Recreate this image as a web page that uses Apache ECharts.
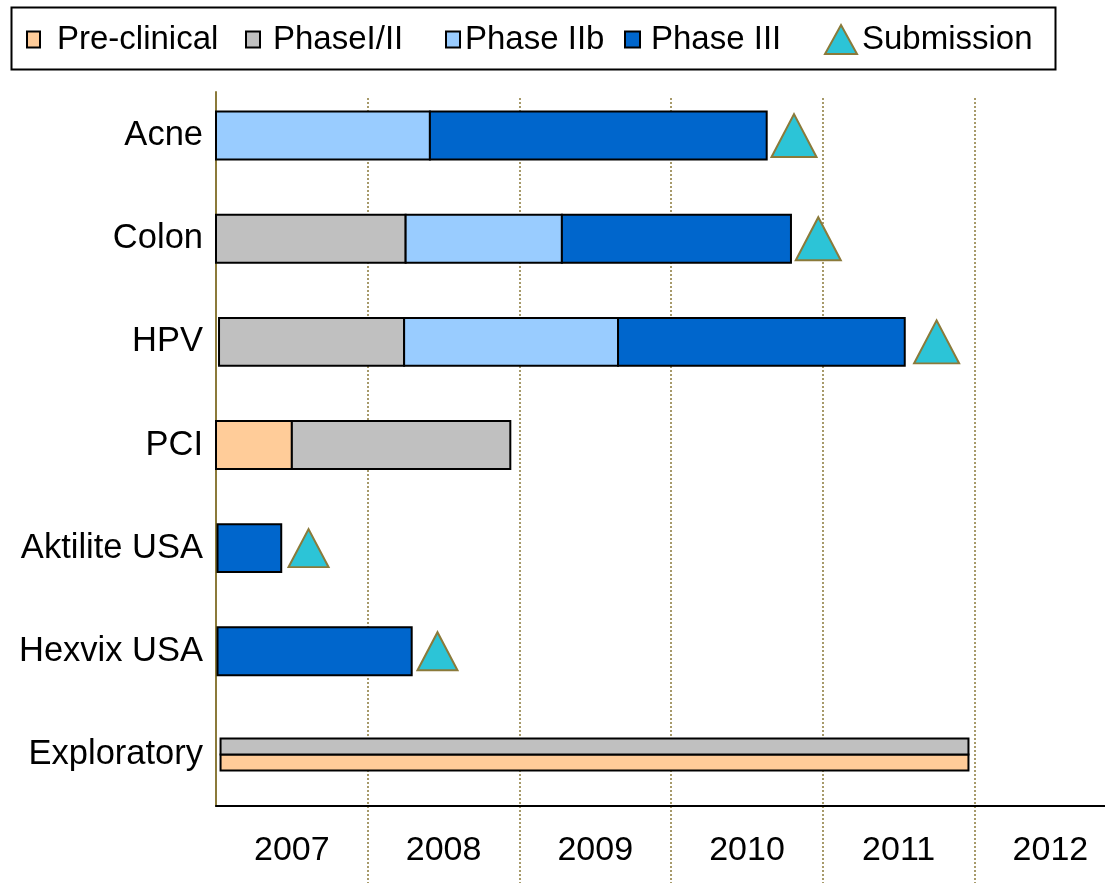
<!DOCTYPE html>
<html>
<head>
<meta charset="utf-8">
<script src="https://cdn.jsdelivr.net/npm/echarts@6/dist/echarts.min.js"></script>
<style>html,body{margin:0;padding:0;background:#fff}#chart{width:1105px;height:883px}</style>
</head>
<body>
<div id="chart"></div>
<script>
// ---- data ----
const categories = ['Acne', 'Colon', 'HPV', 'PCI', 'Aktilite USA', 'Hexvix USA', 'Exploratory'];
const years = [2007, 2008, 2009, 2010, 2011, 2012];
// [start, end, row, lane]  lane: 0 full bar, 1 upper half, 2 lower half
const preClinical = [
  [2007.00, 2007.50, 'PCI', 0],
  [2007.03, 2011.96, 'Exploratory', 2]
];
const phaseI_II = [
  [2007.00, 2008.25, 'Colon', 0],
  [2007.02, 2008.24, 'HPV', 0],
  [2007.50, 2008.94, 'PCI', 0],
  [2007.03, 2011.96, 'Exploratory', 1]
];
const phaseIIb = [
  [2007.00, 2008.41, 'Acne', 0],
  [2008.25, 2009.28, 'Colon', 0],
  [2008.24, 2009.65, 'HPV', 0]
];
const phaseIII = [
  [2008.41, 2010.63, 'Acne', 0],
  [2009.28, 2010.79, 'Colon', 0],
  [2009.65, 2011.54, 'HPV', 0],
  [2007.01, 2007.43, 'Aktilite USA', 0],
  [2007.01, 2008.29, 'Hexvix USA', 0]
];
const submission = [
  [2010.81, 'Acne'],
  [2010.97, 'Colon'],
  [2011.75, 'HPV'],
  [2007.61, 'Aktilite USA'],
  [2008.46, 'Hexvix USA']
];

// ---- chart ----
const FONT = 'Liberation Sans, Arial, sans-serif';
const OLIVE = '#8B7A3A';
const X_MIN = years[0];
const X_MAX = 2012.86;           // visible end of the time axis
const chart = echarts.init(document.getElementById('chart'), null, {renderer: 'canvas'});

function renderBar(params, api) {
  const row = api.value(2);
  const lane = api.value(3);
  const p0 = api.coord([api.value(0), row]);
  const p1 = api.coord([api.value(1), row]);
  const band = api.size([0, 1])[1];
  const full = band * 0.465;
  let y0, h;
  if (lane === 0) { y0 = p0[1] - full / 2; h = full; }
  else if (lane === 1) { y0 = p0[1] - full / 3; h = full / 3; }
  else { y0 = p0[1]; h = full / 3; }
  return {
    type: 'rect',
    shape: {x: p0[0], y: y0, width: p1[0] - p0[0], height: h},
    style: {fill: api.visual('color'), stroke: '#000', lineWidth: 2}
  };
}

function barSeries(name, data, color) {
  return {
    type: 'custom', name: name, data: data,
    xAxisIndex: 2, yAxisIndex: 2,
    renderItem: renderBar,
    encode: {x: [0, 1], y: 2},
    itemStyle: {color: color},
    z: 3
  };
}

function legendAt(name, left, gap, w, h, icon, border) {
  return {
    data: [name], left: left, top: 23, padding: 0,
    icon: icon, itemWidth: w, itemHeight: h,
    itemStyle: {borderColor: border, borderWidth: 2},
    selectedMode: false,
    textStyle: {fontFamily: FONT, fontSize: 33, color: '#000', padding: [0, 0, 0, gap]}
  };
}

// the year labels sit in the middle of each year: a label grid shifted by half a year
const plotLeft = 216, plotRight = 1105;
const yearPx = (plotRight - plotLeft) / (X_MAX - X_MIN);
const labelLeft = plotLeft + yearPx / 2;
const labelMax = X_MIN + (plotRight - labelLeft) / yearPx;

const option = {
  backgroundColor: '#fff',
  animation: false,
  graphic: [{
    type: 'rect', left: 9, top: 5,
    shape: {width: 1044, height: 62},
    style: {fill: 'none', stroke: '#000', lineWidth: 2}
  }],
  legend: [
    legendAt('Pre-clinical', 26, 12, 13, 16, 'rect', '#000'),
    legendAt('PhaseI/II', 245, 8, 14, 16, 'rect', '#000'),
    legendAt('Phase IIb', 445, 0, 14, 16, 'rect', '#000'),
    legendAt('Phase III', 624, 6, 15, 16, 'rect', '#000'),
    legendAt('Submission', 824, 0, 32, 29, 'triangle', OLIVE)
  ],
  grid: [
    {left: plotLeft, right: 0, top: 92, bottom: 77},   // axis lines
    {left: plotLeft, right: 0, top: 98, bottom: 0},    // dotted year lines
    {left: plotLeft, right: 0, top: 84, bottom: 77},   // bars
    {left: labelLeft, right: 0, top: 92, bottom: 77}   // year labels
  ],
  xAxis: [
    {
      gridIndex: 0, type: 'value', min: 0, max: 1,
      axisLine: {show: true, onZero: false, lineStyle: {color: '#000', width: 2}},
      axisTick: {show: false}, axisLabel: {show: false}, splitLine: {show: false}
    },
    {
      gridIndex: 1, type: 'value', min: X_MIN, max: X_MAX, interval: 1,
      axisLine: {show: false}, axisTick: {show: false}, axisLabel: {show: false},
      splitLine: {show: true, showMinLine: false, showMaxLine: false,
        lineStyle: {color: OLIVE, width: 1.5, type: [2, 2]}}
    },
    {
      gridIndex: 2, type: 'value', min: X_MIN, max: X_MAX, show: false
    },
    {
      gridIndex: 3, type: 'value', min: X_MIN, max: labelMax, interval: 1,
      axisLine: {show: false}, axisTick: {show: false}, splitLine: {show: false},
      axisLabel: {
        fontFamily: FONT, fontSize: 34, color: '#000', margin: 28,
        showMaxLabel: false,
        formatter: function (v) { return years.indexOf(v) >= 0 ? String(v) : ''; }
      }
    }
  ],
  yAxis: [
    {
      gridIndex: 0, type: 'value', min: 0, max: 1,
      axisLine: {show: true, onZero: false, lineStyle: {color: OLIVE, width: 2}},
      axisTick: {show: false}, axisLabel: {show: false}, splitLine: {show: false}
    },
    {gridIndex: 1, type: 'value', min: 0, max: 1, show: false},
    {
      gridIndex: 2, type: 'category', data: categories, inverse: true, boundaryGap: true,
      axisLine: {show: false}, axisTick: {show: false},
      axisLabel: {fontFamily: FONT, fontSize: 34.5, color: '#000', margin: 13},
      splitLine: {show: false}
    },
    {gridIndex: 3, type: 'value', min: 0, max: 1, show: false}
  ],
  series: [
    barSeries('Pre-clinical', preClinical, '#FFCC99'),
    barSeries('PhaseI/II', phaseI_II, '#C0C0C0'),
    barSeries('Phase IIb', phaseIIb, '#99CCFF'),
    barSeries('Phase III', phaseIII, '#0066CC'),
    {
      type: 'scatter', name: 'Submission', data: submission,
      xAxisIndex: 2, yAxisIndex: 2,
      symbol: 'triangle',
      symbolSize: function (v, p) { return p.dataIndex < 3 ? [45, 43] : [40, 38]; },
      itemStyle: {color: '#2CC4D7', borderColor: OLIVE, borderWidth: 2, opacity: 1},
      z: 4
    }
  ]
};
chart.setOption(option);
</script>
</body>
</html>
